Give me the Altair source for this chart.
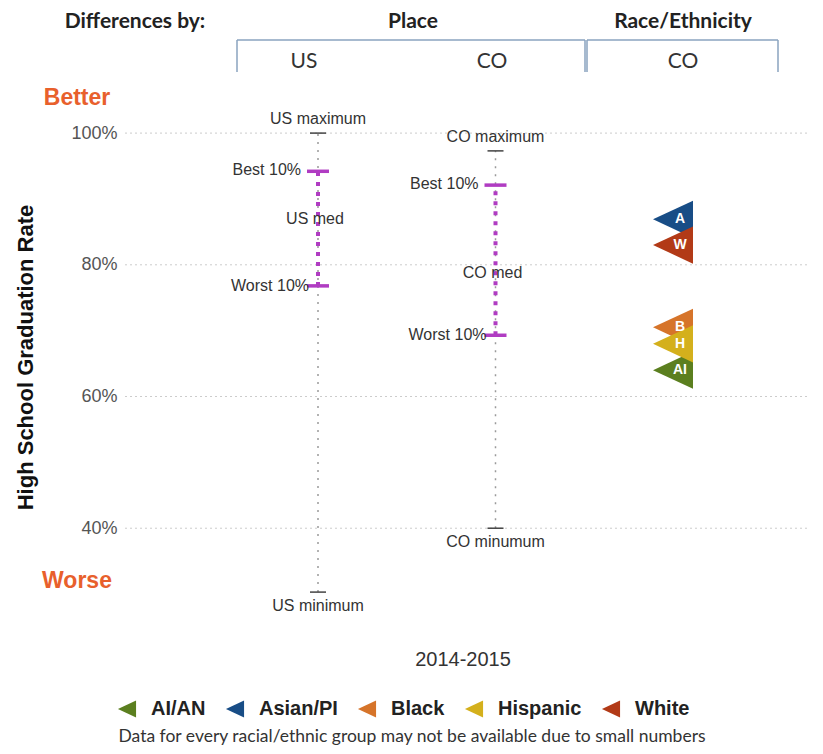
import altair as alt
import pandas as pd

# ---------------- data ----------------
place_keys = ["US", "CO_place"]
place_max = [1.000, 0.973]
place_best10 = [0.942, 0.921]
place_med = [0.870, 0.787]
place_worst10 = [0.768, 0.693]
place_min = [0.303, 0.400]
max_labels = ["US maximum", "CO maximum"]
med_labels = ["US med", "CO med"]
min_labels = ["US minimum", "CO minumum"]

race_groups = ["AI/AN", "Asian/PI", "Black", "Hispanic", "White"]
race_values = [0.640, 0.869, 0.705, 0.680, 0.830]
race_letters = ["AI", "A", "B", "H", "W"]
race_colors = ["#5b7f1f", "#184d86", "#d6742a", "#d4b01c", "#b23a17"]

x_keys = ["US", "CO_place", "CO_race"]
header_texts = ["US", "CO", "CO"]
y_ticks = [0.4, 0.6, 0.8, 1.0]
side_texts = ["Better", "Worse"]
side_values = [1.053, 0.320]

places = pd.DataFrame({
    "key": place_keys, "max": place_max, "best": place_best10, "med": place_med,
    "worst": place_worst10, "min": place_min,
    "maxlab": max_labels, "medlab": med_labels, "minlab": min_labels,
})
race = pd.DataFrame({
    "key": ["CO_race"] * len(race_groups), "group": race_groups,
    "value": race_values, "letter": race_letters,
})
ticks_df = pd.DataFrame({"v": y_ticks})
sides = pd.DataFrame({"text": side_texts, "v": side_values})
one = pd.DataFrame({"k": [0]})

W, H = 685, 540
xs = alt.Scale(type="point", domain=x_keys, range=[193, 548], padding=0)
ys = alt.Scale(domain=[0.25, 1.07], zero=False, nice=False)

X = alt.X("key:N", scale=xs, axis=None)
YTITLE = "High School Graduation Rate"
YAXIS = alt.Axis(values=y_ticks, format=".0%", ticks=False, domain=False, grid=False,
                 labelFont="Liberation Sans", labelFontSize=18, labelColor="#555",
                 labelPadding=8, titleFont="Liberation Sans", titleFontSize=22,
                 titleFontWeight="bold", titleColor="#111", titlePadding=33)


def Y(field):
    return alt.Y(field, scale=ys, title=YTITLE, axis=YAXIS)


base_p = alt.Chart(places)
PURPLE = "#b03cc2"

grid = alt.Chart(ticks_df).mark_rule(color="#cccccc", strokeWidth=1, strokeDash=[2, 3]).encode(
    x=alt.value(0), x2=alt.value(W), y=Y("v:Q"))

grey_whisker = base_p.mark_rule(color="#9a9a9a", strokeWidth=1.5, strokeDash=[2, 6]).encode(
    x=X, y=Y("min:Q"), y2="max:Q")
purple_whisker = base_p.mark_rule(color=PURPLE, strokeWidth=4, strokeDash=[4, 6]).encode(
    x=X, y=Y("worst:Q"), y2="best:Q")
best_tick = base_p.mark_tick(color=PURPLE, size=22, thickness=3.5, opacity=1,
                             orient="horizontal").encode(x=X, y=Y("best:Q"))
worst_tick = base_p.mark_tick(color=PURPLE, size=22, thickness=3.5, opacity=1,
                              orient="horizontal").encode(x=X, y=Y("worst:Q"))
max_tick = base_p.mark_tick(color="#444", size=16, thickness=1.5, opacity=1,
                            orient="horizontal").encode(x=X, y=Y("max:Q"))
min_tick = base_p.mark_tick(color="#444", size=16, thickness=1.5, opacity=1,
                            orient="horizontal").encode(x=X, y=Y("min:Q"))

lab = dict(font="Liberation Sans", fontSize=16, color="#333")
max_text = base_p.mark_text(dy=-14, **lab).encode(x=X, y=Y("max:Q"), text="maxlab:N")
min_text = base_p.mark_text(dy=14, **lab).encode(x=X, y=Y("min:Q"), text="minlab:N")
med_text = base_p.mark_text(dx=-3, **lab).encode(x=X, y=Y("med:Q"), text="medlab:N")
best_text = base_p.mark_text(align="right", dx=-17, dy=-1, **lab).encode(
    x=X, y=Y("best:Q"), text=alt.value("Best 10%"))
worst_text = base_p.mark_text(align="right", dx=-9, **lab).encode(
    x=X, y=Y("worst:Q"), text=alt.value("Worst 10%"))

tri = "M-1,0L1,-0.93L1,0.93Z"
race_marks = alt.Chart(race).mark_point(shape=tri, filled=True, size=1600, opacity=1,
                                        strokeWidth=0).encode(
    x=X, y=Y("value:Q"),
    color=alt.Color("group:N", scale=alt.Scale(domain=race_groups, range=race_colors),
                    legend=alt.Legend(title=None, orient="none", direction="horizontal",
                                      legendX=-8, legendY=612, symbolType=tri,
                                      symbolSize=330, symbolStrokeWidth=0,
                                      symbolOpacity=1,
                                      labelFont="Liberation Sans", labelFontSize=20,
                                      labelFontWeight="bold", labelColor="#222",
                                      columnPadding=19, labelOffset=14)),
)
race_text = alt.Chart(race).mark_text(color="white", fontWeight="bold", fontSize=14,
                                      font="Liberation Sans", dx=7).encode(
    x=X, y=Y("value:Q"), text="letter:N")

side_text = alt.Chart(sides).mark_text(font="Liberation Sans", fontSize=23, fontWeight="bold",
                                       color="#e8602c").encode(
    x=alt.value(-48), y=Y("v:Q"), text="text:N")

hf = dict(font="Lato", fontSize=21, color="#333")
h1 = alt.Chart(one).mark_text(**hf).encode(x=alt.value(179), y=alt.value(-25), text=alt.value(header_texts[0]))
h2 = alt.Chart(one).mark_text(**hf).encode(x=alt.value(367), y=alt.value(-25), text=alt.value(header_texts[1]))
h3 = alt.Chart(one).mark_text(**hf).encode(x=alt.value(558), y=alt.value(-25), text=alt.value(header_texts[2]))

title_font = dict(font="Lato", fontSize=21, fontWeight="bold", color="#222")
t1 = alt.Chart(one).mark_text(**title_font).encode(
    x=alt.value(10), y=alt.value(-65), text=alt.value("Differences by:"))
t2 = alt.Chart(one).mark_text(**title_font).encode(
    x=alt.value(288), y=alt.value(-65), text=alt.value("Place"))
t3 = alt.Chart(one).mark_text(**title_font).encode(
    x=alt.value(558), y=alt.value(-65), text=alt.value("Race/Ethnicity"))

br = dict(color="#8aa3bf", strokeWidth=1.5)
b1 = alt.Chart(one).mark_rule(**br).encode(x=alt.value(112), x2=alt.value(460), y=alt.value(-47))
b2 = alt.Chart(one).mark_rule(**br).encode(x=alt.value(112), y=alt.value(-47), y2=alt.value(-15))
b3 = alt.Chart(one).mark_rule(**br).encode(x=alt.value(460), y=alt.value(-47), y2=alt.value(-15))
b4 = alt.Chart(one).mark_rule(**br).encode(x=alt.value(462), x2=alt.value(653), y=alt.value(-47))
b5 = alt.Chart(one).mark_rule(**br).encode(x=alt.value(462), y=alt.value(-47), y2=alt.value(-15))
b6 = alt.Chart(one).mark_rule(**br).encode(x=alt.value(653), y=alt.value(-47), y2=alt.value(-15))

year = alt.Chart(one).mark_text(font="Liberation Sans", fontSize=20, color="#333").encode(
    x=alt.value(338), y=alt.value(573), text=alt.value("2014-2015"))

foot = alt.Chart(one).mark_text(font="Lato", fontSize=17.5, color="#333").encode(
    x=alt.value(287), y=alt.value(650),
    text=alt.value("Data for every racial/ethnic group may not be available due to small numbers"))

chart = alt.layer(
    grid, grey_whisker, purple_whisker, best_tick, worst_tick, max_tick, min_tick,
    max_text, min_text, med_text, best_text, worst_text,
    race_marks, race_text, side_text, h1, h2, h3, t1, t2, t3,
    b1, b2, b3, b4, b5, b6, year, foot,
).properties(
    width=W, height=H,
    autosize=alt.AutoSizeParams(type="none"),
    padding={"left": 117, "top": 79, "right": 5, "bottom": 119},
).configure_view(stroke=None)

chart.save("out.html", embed_options={"renderer": "svg", "actions": False})
